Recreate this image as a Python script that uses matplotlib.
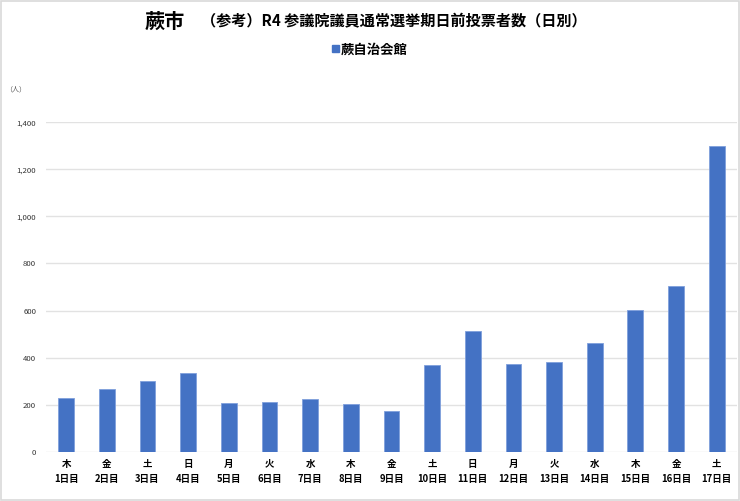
import matplotlib
matplotlib.use("Agg")
import matplotlib.pyplot as plt
from matplotlib.patches import Rectangle

plt.rcParams['font.family'] = ['Noto Sans CJK JP', 'DejaVu Sans']

weekdays = ["木", "金", "土", "日", "月", "火", "水", "木", "金", "土", "日", "月", "火", "水", "木", "金", "土"]
days = [f"{i}日目" for i in range(1, 18)]
values = [230, 267, 302, 335, 207, 212, 225, 201, 171, 370, 515, 373, 380, 460, 602, 706, 1300]
series_name = "蕨自治会館"
yticks = [0, 200, 400, 600, 800, 1000, 1200, 1400]
color = "#4472C4"

fig = plt.figure(figsize=(7.4, 5.01), dpi=100)
ax = fig.add_axes([0.062, 0.0984, 0.934, 0.6576])

x = list(range(len(values)))
ax.bar(x, values, width=0.39, color=color, edgecolor="#7f9fdc", linewidth=0.6, zorder=3)
ax.set_xlim(-0.5, len(values) - 0.5)
ax.set_ylim(0, 1400)
ax.set_yticks(yticks)
ax.set_yticklabels([f"{v:,}" for v in yticks], fontsize=5.6, color="#333333")
ax.set_xticks(x)
ax.set_xticklabels([f"{w}\n{d}" for w, d in zip(weekdays, days)], fontsize=6.8,
                   fontweight="bold", linespacing=1.65)
ax.tick_params(axis="both", length=0)
ax.tick_params(axis="x", pad=5)
ax.tick_params(axis="y", pad=7)
ax.grid(axis="y", color="#e2e2e2", linewidth=1.0, zorder=0)
for s in ax.spines.values():
    s.set_visible(False)

fig.text(0.007, 0.822, "（人）", fontsize=5, color="#555555", va="center")
fig.text(0.196, 0.958, "蕨市", fontsize=14.5, fontweight="bold", va="center")
fig.text(0.2716, 0.958, "（参考）R4 参議院議員通常選挙期日前投票者数（日別）", fontsize=10.9,
         fontweight="bold", va="center")
fig.patches.append(Rectangle((0.4486, 0.8962), 0.0095, 0.014, transform=fig.transFigure,
                             color=color, figure=fig))
fig.text(0.4605, 0.9016, series_name, fontsize=9.6, fontweight="bold", va="center")

fig.patches.append(Rectangle((0.001, 0.001), 0.998, 0.998, transform=fig.transFigure,
                             fill=False, edgecolor="#d9d9d9", linewidth=1.2, figure=fig))

fig.savefig("out.png", dpi=100)
